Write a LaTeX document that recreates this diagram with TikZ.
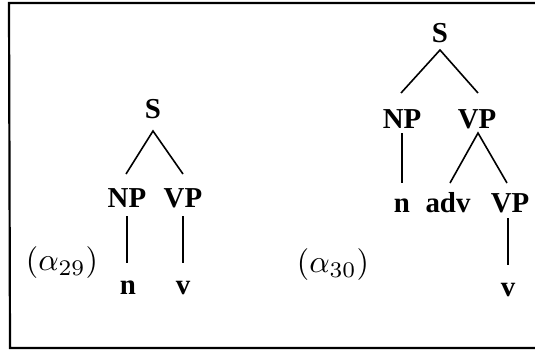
\documentclass[tikz,border=0pt]{standalone}
\usepackage{fontspec}
\setmainfont{Liberation Serif}
\begin{document}
\begin{tikzpicture}[x=1bp,y=-1bp,
  lab/.style={font=\fontsize{29}{30}\selectfont\bfseries, inner sep=0pt, anchor=base},
  tag/.style={inner sep=0pt},
  edge/.style={line width=1.6bp}]
\useasboundingbox (0,0) rectangle (535,349);
\draw[line width=2.2bp] (545,3) -- (9,3) -- (10,348) -- (545,348);
% left tree
\node[lab] (S1) at (153,118) {S};
\node[lab] (NP1) at (127,207) {NP};
\node[lab] (VP1) at (183,207) {VP};
\node[lab] (n1) at (128,294) {n};
\node[lab] (v1) at (183,294) {v};
\node[tag] (t1) at (62,263) {\scalebox{3.2}{$(\alpha_{29})$}};
\coordinate (a1) at (153,131);
\coordinate (b1) at (126,174);
\coordinate (c1) at (183,174);
\draw[edge] (b1) -- (a1) -- (c1);
\draw[edge] (127,216) -- (127,263);
\draw[edge] (183,216) -- (183,263);
% right tree
\node[lab] (S2) at (440,42) {S};
\node[lab] (NP2) at (402,128) {NP};
\node[lab] (VP2) at (477,128) {VP};
\node[lab] (n2) at (402,212) {n};
\node[lab] (adv) at (448,212) {adv};
\node[lab] (VP3) at (510,212) {VP};
\node[lab] (v2) at (508,296) {v};
\node[tag] (t2) at (333,265) {\scalebox{3.2}{$(\alpha_{30})$}};
\draw[edge] (401,93) -- (440,50) -- (478,93);
\draw[edge] (402,133) -- (402,183);
\draw[edge] (450,183) -- (478,133) -- (507,183);
\draw[edge] (508,218) -- (508,265);
\end{tikzpicture}
\end{document}
